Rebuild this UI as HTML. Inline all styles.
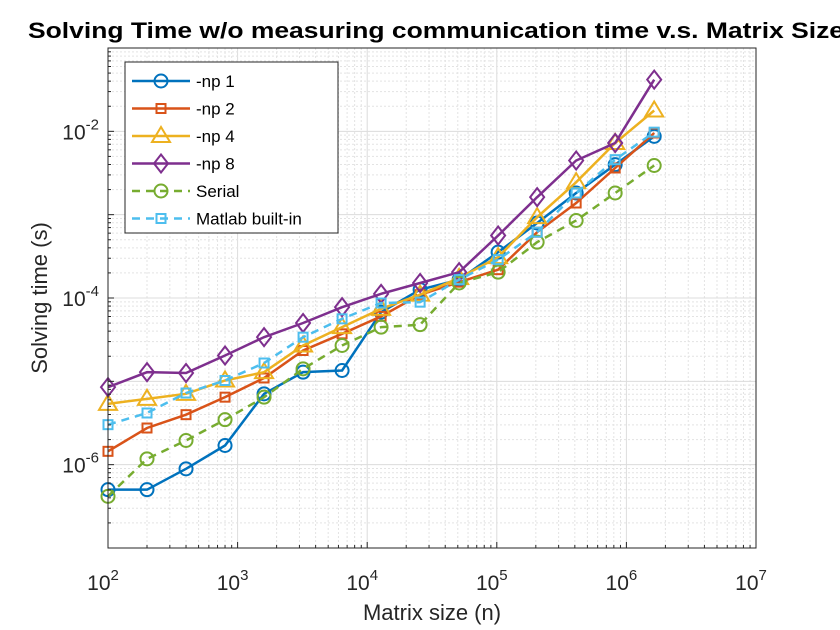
<!DOCTYPE html>
<html><head><meta charset="utf-8"><style>
body{margin:0;background:#fff;}
svg{display:block;font-family:"Liberation Sans",Arial,sans-serif;}
</style></head><body>
<svg id="chart" width="840" height="630" viewBox="0 0 840 630" xmlns="http://www.w3.org/2000/svg">
<rect width="840" height="630" fill="#fff"/>
<g id="grid"></g>
<g id="series"></g>
<rect x="108" y="48" width="648" height="500" fill="none" stroke="#262626" stroke-width="1"/>
<g id="ticks"></g>
<text x="28" y="38" font-size="22" font-weight="bold" fill="#000" textLength="816" lengthAdjust="spacingAndGlyphs">Solving Time w/o measuring communication time v.s. Matrix Size</text>
<text x="432" y="620" text-anchor="middle" font-size="22" fill="#262626">Matrix size (n)</text>
<text transform="translate(47,298) rotate(-90)" text-anchor="middle" font-size="22" fill="#262626">Solving time (s)</text>
<g id="legend"></g>
</svg>
<script>
const sizes=[100,200,400,800,1600,3200,6400,12800,25600,51200,102400,204800,409600,819200,1638400];
const np1Log=[-6.30,-6.30,-6.05,-5.77,-5.15,-4.89,-4.87,-4.17,-3.90,-3.78,-3.45,-3.10,-2.74,-2.40,-2.06];
const np2Log=[-5.84,-5.56,-5.40,-5.19,-4.96,-4.63,-4.43,-4.22,-3.96,-3.81,-3.66,-3.21,-2.86,-2.44,-2.02];
const np4Log=[-5.27,-5.21,-5.15,-4.99,-4.89,-4.57,-4.35,-4.13,-3.96,-3.76,-3.51,-3.03,-2.61,-2.14,-1.75];
const np8Log=[-5.07,-4.89,-4.90,-4.69,-4.47,-4.30,-4.11,-3.95,-3.82,-3.69,-3.25,-2.79,-2.35,-2.14,-1.38];
const serialLog=[-6.38,-5.93,-5.71,-5.46,-5.19,-4.85,-4.57,-4.35,-4.32,-3.82,-3.69,-3.33,-3.07,-2.74,-2.41];
const matlabLog=[-5.52,-5.38,-5.14,-4.99,-4.78,-4.47,-4.25,-4.06,-4.05,-3.78,-3.54,-3.21,-2.74,-2.34,-2.01];
const xTickExps=[2,3,4,5,6,7];
const yTickExps=[-6,-4,-2];
const seriesNames=["-np 1","-np 2","-np 4","-np 8","Serial","Matlab built-in"];

const NS="http://www.w3.org/2000/svg";
const L=108,R=756,T=48,B=548;
const xMin=2,xMax=7,yMin=-7,yMax=-1;
const xs=v=>L+(Math.log10(v)-xMin)/(xMax-xMin)*(R-L);
const xe=e=>L+(e-xMin)/(xMax-xMin)*(R-L);
const ye=e=>B-(e-yMin)/(yMax-yMin)*(B-T);
function mk(tag,attrs,parent){const el=document.createElementNS(NS,tag);for(const k in attrs)el.setAttribute(k,attrs[k]);parent.appendChild(el);return el;}

const grid=document.getElementById('grid');
const ticks=document.getElementById('ticks');
for(let e=xMin;e<xMax;e++){for(let m=1;m<10;m++){const x=xe(e+Math.log10(m));
  const ln=mk('line',{x1:x,x2:x,y1:T,y2:B,stroke:m===1?'#dcdcdc':'#e3e3e3','stroke-width':1,'stroke-dasharray':m===1?'':'2,2'},grid);
  
  
  const tk=mk('line',{x1:x,x2:x,y1:B,y2:B-(m===1?6:3),stroke:'#262626'},ticks);
  
  
}}
for(let e=yMin;e<yMax;e++){for(let m=1;m<10;m++){const y=ye(e+Math.log10(m));
  const ln=mk('line',{x1:L,x2:R,y1:y,y2:y,stroke:m===1?'#dcdcdc':'#e3e3e3','stroke-width':1,'stroke-dasharray':m===1?'':'2,2'},grid);
  
  
  const tk=mk('line',{x1:L,x2:L+(m===1?6:3),y1:y,y2:y,stroke:'#262626'},ticks);
  
  
}}
xTickExps.forEach(e=>{const t=mk('text',{x:xe(e)-5,y:590,'text-anchor':'middle','font-size':21,fill:'#262626'},ticks);
  
  
  t.textContent='10';const s=mk('tspan',{dy:-10,'font-size':15},t);s.textContent=String(e);});
yTickExps.forEach(e=>{const t=mk('text',{x:99,y:ye(e)+8,'text-anchor':'end','font-size':21,fill:'#262626'},ticks);
  
  
  t.textContent='10';const s=mk('tspan',{dy:-10,'font-size':15},t);s.textContent=String(e);});

const colors=['#0072BD','#D95319','#EDB120','#7E2F8E','#77AC30','#4DBEEE'];
const markers=['circle','square','triangle','diamond','circle','square'];
const dashed=[false,false,false,false,true,true];
const data=[np1Log,np2Log,np4Log,np8Log,serialLog,matlabLog];
function marker(type,x,y,c,g){
  let el;
  if(type==='circle')el=mk('circle',{cx:x,cy:y,r:6.5,fill:'none',stroke:c,'stroke-width':2},g);
  else if(type==='square')el=mk('rect',{x:x-4.5,y:y-4.5,width:9,height:9,fill:'none',stroke:c,'stroke-width':2},g);
  else if(type==='triangle')el=mk('polygon',{points:`${x},${y-9} ${x+9},${y+6} ${x-9},${y+6}`,fill:'none',stroke:c,'stroke-width':2},g);
  else el=mk('polygon',{points:`${x},${y-9} ${x+7},${y} ${x},${y+9} ${x-7},${y}`,fill:'none',stroke:c,'stroke-width':2},g);
  
  
}
const sg=document.getElementById('series');
data.forEach((arr,i)=>{
  const g=mk('g',{},sg);
  
  
  const pts=arr.map((v,j)=>xs(sizes[j])+','+ye(v)).join(' ');
  const pl=mk('polyline',{points:pts,fill:'none',stroke:colors[i],'stroke-width':2.5,'stroke-dasharray':dashed[i]?'8,6':''},g);
  
  
  arr.forEach((v,j)=>marker(markers[i],xs(sizes[j]),ye(v),colors[i],g));
});
const lg=document.getElementById('legend');
const box=mk('rect',{x:125,y:62,width:213,height:171,fill:'#fff',stroke:'#262626','stroke-width':1},lg);


seriesNames.forEach((n,i)=>{
  const y=81+i*27.5;
  const g=mk('g',{},lg);
  
  
  const ln=mk('line',{x1:132,x2:190,y1:y,y2:y,stroke:colors[i],'stroke-width':2.5,'stroke-dasharray':dashed[i]?'8,6':''},g);
  
  
  marker(markers[i],161,y,colors[i],g);
  const t=mk('text',{x:196,y:y+6,'font-size':17,fill:'#000'},g);
  
  
  t.textContent=n;
});
</script>
</body></html>
